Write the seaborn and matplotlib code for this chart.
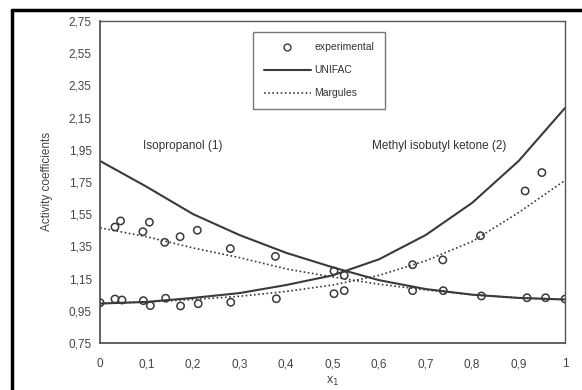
import matplotlib
matplotlib.use("Agg")
import matplotlib.pyplot as plt
import seaborn as sns
import pandas as pd
from matplotlib.lines import Line2D
from matplotlib.ticker import FuncFormatter

# ---- data ----
x_exp1 = [0.032, 0.044, 0.092, 0.106, 0.139, 0.172, 0.209, 0.28, 0.377, 0.503, 0.525,
          0.672, 0.738, 0.82, 0.918, 0.958, 1.0]
g1_exp = [1.47, 1.508, 1.441, 1.50, 1.375, 1.41, 1.45, 1.336, 1.288, 1.197, 1.17,
          1.075, 1.075, 1.042, 1.031, 1.031, 1.023]
x_exp2 = [0.0, 0.032, 0.047, 0.093, 0.108, 0.141, 0.173, 0.211, 0.281, 0.379, 0.503,
          0.525, 0.672, 0.737, 0.818, 0.914, 0.95]
g2_exp = [1.0, 1.023, 1.017, 1.013, 0.982, 1.028, 0.98, 0.994, 1.003, 1.025, 1.056,
          1.075, 1.236, 1.266, 1.416, 1.694, 1.808]

x_model = [0.0, 0.1, 0.2, 0.3, 0.4, 0.5, 0.6, 0.7, 0.8, 0.9, 1.0]
g1_unifac = [1.88, 1.72, 1.55, 1.42, 1.31, 1.22, 1.14, 1.085, 1.05, 1.03, 1.02]
g2_unifac = [0.995, 1.005, 1.03, 1.06, 1.11, 1.17, 1.27, 1.42, 1.62, 1.88, 2.21]
g1_margules = [1.465, 1.41, 1.34, 1.28, 1.21, 1.16, 1.115, 1.08, 1.05, 1.03, 1.02]
g2_margules = [0.995, 1.005, 1.02, 1.04, 1.07, 1.11, 1.17, 1.26, 1.38, 1.56, 1.76]

y_ticks = [0.75, 0.95, 1.15, 1.35, 1.55, 1.75, 1.95, 2.15, 2.35, 2.55, 2.75]
x_ticks = [0, 0.1, 0.2, 0.3, 0.4, 0.5, 0.6, 0.7, 0.8, 0.9, 1.0]

sns.set_style("white")
plt.rcParams['font.family'] = ['Liberation Sans', 'DejaVu Sans']

fig = plt.figure(figsize=(5.82, 3.9), dpi=100)
ax = fig.add_axes([0.172, 0.1205, 0.799, 0.826])

col = "#3a3a3a"
exp = pd.DataFrame({"x": x_exp1 + x_exp2, "g": g1_exp + g2_exp})
mod = pd.DataFrame({"x": x_model, "g1u": g1_unifac, "g2u": g2_unifac,
                    "g1m": g1_margules, "g2m": g2_margules})

sns.lineplot(data=mod, x="x", y="g1u", ax=ax, color=col, lw=1.5)
sns.lineplot(data=mod, x="x", y="g2u", ax=ax, color=col, lw=1.5)
sns.lineplot(data=mod, x="x", y="g1m", ax=ax, color=col, lw=1.2, linestyle=(0, (1, 1.5)))
sns.lineplot(data=mod, x="x", y="g2m", ax=ax, color=col, lw=1.2, linestyle=(0, (1, 1.5)))
sns.scatterplot(data=exp, x="x", y="g", ax=ax, marker="o", s=28,
                facecolor="none", edgecolor=col, linewidth=1.1, zorder=5)

ax.set_xlim(0, 1.0)
ax.set_ylim(0.75, 2.75)
ax.set_yticks(y_ticks)
ax.set_xticks(x_ticks)
fmt = FuncFormatter(lambda v, p: ("%g" % round(v, 2)).replace(".", ","))
ax.xaxis.set_major_formatter(fmt)
ax.yaxis.set_major_formatter(FuncFormatter(lambda v, p: ("%.2f" % v).replace(".", ",")))
ax.tick_params(axis="both", labelsize=8.5, colors="#444444", length=3, width=0.8,
               direction="out", pad=3)
ax.tick_params(axis="x", pad=8)
for sp in ax.spines.values():
    sp.set_color("#555555")
    sp.set_linewidth(1.0)
ax.spines["left"].set_linewidth(1.3)
ax.spines["bottom"].set_linewidth(1.3)

ax.set_ylabel("Activity coefficients", fontsize=8.5, color="#444444", labelpad=11)
ax.set_xlabel("x$_1$", fontsize=9, color="#444444", labelpad=3)

ax.text(0.093, 1.97, "Isopropanol (1)", fontsize=8.5, color="#333333", va="center", ha="left")
ax.text(0.585, 1.97, "Methyl isobutyl ketone (2)", fontsize=8.5, color="#333333",
        va="center", ha="left")

handles = [Line2D([], [], marker="o", ls="none", mfc="none", mec=col, ms=5),
           Line2D([], [], color=col, lw=1.5),
           Line2D([], [], color=col, lw=1.2, ls=(0, (1, 1.5)))]
leg = ax.legend(handles, ["experimental", "UNIFAC", "Margules"], loc="upper left",
                bbox_to_anchor=(0.329, 0.966), fontsize=7.5, frameon=True, fancybox=False,
                edgecolor="#555555", handlelength=4.6, borderpad=1.0, labelspacing=1.25,
                handletextpad=0.3, borderaxespad=0)
leg.get_frame().set_linewidth(1.0)
for t in leg.get_texts():
    t.set_color("#333333")

# outer thick frame (top and left)
fig.add_artist(Line2D([12/582, 1.0], [1 - 10/390, 1 - 10/390], transform=fig.transFigure,
                      color="black", lw=2.5))
fig.add_artist(Line2D([12/582, 12/582], [0.0, 1 - 10/390], transform=fig.transFigure,
                      color="black", lw=2.5))

fig.savefig("out.png", dpi=100)
